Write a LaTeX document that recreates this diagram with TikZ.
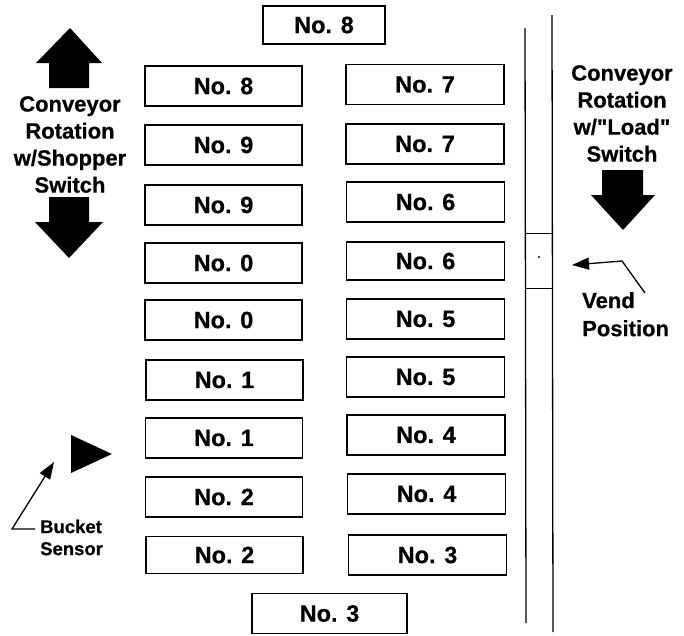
\documentclass[tikz,border=0pt]{standalone}
\usepackage{fontspec}
\setmainfont{Liberation Sans}
\newfontfamily\heavy[FakeBold=0.6]{Liberation Sans Bold}
\usetikzlibrary{arrows.meta}
\begin{document}
\begin{tikzpicture}[x=1pt,y=-1pt,
  slot/.style={draw,line width=1.3pt,inner sep=0pt,minimum height=40pt,font=\heavy\fontsize{23.5}{26}\selectfont},
  lslot/.style={slot,minimum width=157pt},
  rslot/.style={slot,minimum width=158pt},
  lbl/.style={inner sep=0pt,font=\heavy\fontsize{22}{27}\selectfont},
  bigarrow/.style={fill=black,draw=none},
  rail/.style={line width=1.3pt},
  pointer/.style={line width=1.3pt,-{Triangle[length=17pt,width=12pt]}}]
\useasboundingbox (0,0) rectangle (684,635);
% top and bottom
\node[slot,minimum width=122pt,minimum height=38pt] (t8) at (324,25) {No. 8};
\node[slot,minimum width=155pt] (b3) at (329.5,613.5) {No. 3};
% left column
\node[lslot] (l1) at (223.5,86) {No. 8};
\node[lslot] (l2) at (223.5,145) {No. 9};
\node[lslot] (l3) at (223.5,205) {No. 9};
\node[lslot] (l4) at (223.5,263) {No. 0};
\node[lslot] (l5) at (223.5,320) {No. 0};
\node[lslot] (l6) at (224.5,380) {No. 1};
\node[lslot] (l7) at (224,438) {No. 1};
\node[lslot] (l8) at (224,497) {No. 2};
\node[lslot,minimum height=37pt] (l9) at (224.5,555) {No. 2};
% right column
\node[rslot] (r1) at (425,84.5) {No. 7};
\node[rslot] (r2) at (425,144) {No. 7};
\node[rslot] (r3) at (425.5,202) {No. 6};
\node[rslot,minimum height=38pt] (r4) at (425.5,261) {No. 6};
\node[rslot] (r5) at (425.5,319) {No. 5};
\node[rslot] (r6) at (425.5,377) {No. 5};
\node[rslot] (r7) at (426,435) {No. 4};
\node[rslot] (r8) at (426.5,494) {No. 4};
\node[rslot] (r9) at (427.5,555) {No. 3};
% rails
\coordinate (ra1) at (525,28);
\coordinate (ra2) at (526,623);
\coordinate (rb1) at (552,15);
\coordinate (rb2) at (553,632);
\draw[rail] (ra1) -- (ra2);
\draw[rail] (rb1) -- (rb2);
\coordinate (v1) at (525,233); \coordinate (v2) at (552,233);
\coordinate (v3) at (525,288); \coordinate (v4) at (552,288);
\draw[line width=1pt] (v1) -- (v2);
\draw[line width=1pt] (v3) -- (v4);
\fill (539,257) circle (1.2pt);
% left arrows and label
\fill[bigarrow] (70,28) -- (102,63) -- (89,63) -- (89,88) -- (49,88) -- (49,63) -- (36,63) -- cycle;
\fill[bigarrow] (69,258) -- (103,222) -- (89,222) -- (89,197) -- (49,197) -- (49,222) -- (35,222) -- cycle;
\node[lbl,align=center,anchor=north] (shop) at (70,96) {Conveyor\\Rotation\\w/Shopper\\Switch};
% right arrow and label
\node[lbl,align=center,anchor=north] (load) at (622,65) {Conveyor\\Rotation\\w/"Load"\\Switch};
\fill[bigarrow] (623,230) -- (655,195) -- (643,195) -- (643,170) -- (602,170) -- (602,195) -- (591,195) -- cycle;
% vend
\node[lbl,align=left,anchor=north west,font=\heavy\fontsize{22}{28}\selectfont] (vend) at (582,292) {Vend\\Position};
\coordinate (vs) at (645,293);
\coordinate (vk) at (622,261);
\coordinate (vt) at (572,265);
\draw[pointer] (vs) -- (vk) -- (vt);
% bucket sensor
\fill[bigarrow] (71,435) -- (112,454) -- (71,473) -- cycle;
\node[inner sep=0pt,font=\heavy\fontsize{18.5}{22}\selectfont,align=left,anchor=north west] (bucket) at (40,519.5) {Bucket\\Sensor};
\coordinate (bs) at (35,529);
\coordinate (bk) at (12,529);
\coordinate (bt) at (54,462);
\draw[pointer] (bs) -- (bk) -- (bt);
\end{tikzpicture}
\end{document}
